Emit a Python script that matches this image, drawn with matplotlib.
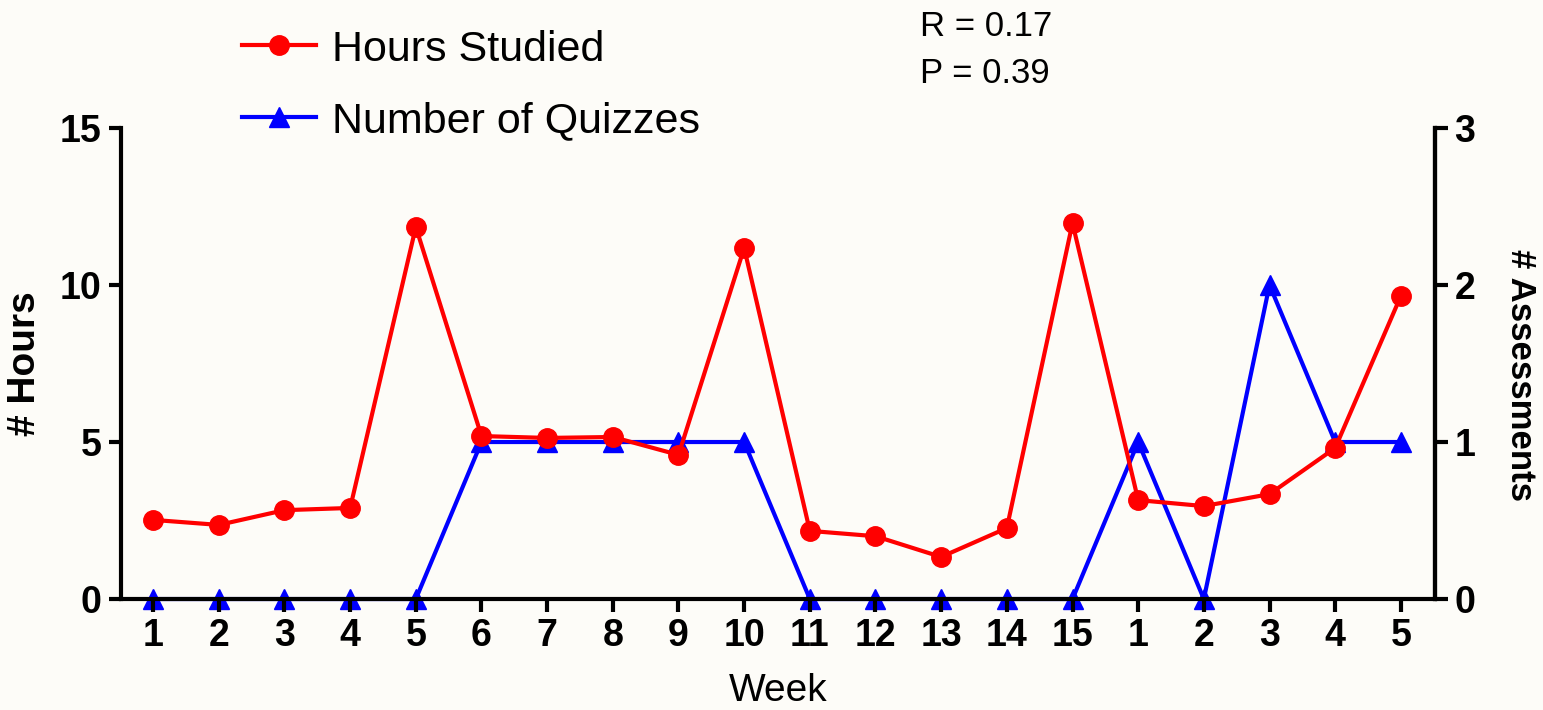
import matplotlib.pyplot as plt

weeks = ['1', '2', '3', '4', '5', '6', '7', '8', '9', '10',
         '11', '12', '13', '14', '15', '1', '2', '3', '4', '5']
hours = [2.52, 2.36, 2.83, 2.9, 11.85, 5.19, 5.13, 5.16, 4.59, 11.18,
         2.17, 2.0, 1.34, 2.26, 11.97, 3.15, 2.96, 3.34, 4.81, 9.65]
quizzes = [0, 0, 0, 0, 0, 1, 1, 1, 1, 1, 0, 0, 0, 0, 0, 1, 0, 2, 1, 1]

bg = '#fdfcf8'
plt.rcParams['font.family'] = ['Liberation Sans', 'DejaVu Sans']

fig = plt.figure(figsize=(15.43, 7.10), dpi=100, facecolor=bg)
ax1 = fig.add_axes([0.0784, 0.1563, 0.8516, 0.6634])
ax2 = ax1.twinx()
ax1.set_zorder(ax2.get_zorder() + 1)
ax1.patch.set_visible(False)
ax2.set_facecolor(bg)

x = list(range(len(weeks)))
l1, = ax1.plot(x, hours, color='#ff0000', lw=3, marker='o', ms=14,
               clip_on=False, zorder=5, label='Hours Studied')
l2, = ax2.plot(x, quizzes, color='#0000ff', lw=3, marker='^', ms=14,
               clip_on=False, zorder=5, label='Number of Quizzes')

ax1.set_xlim(-0.49, 19.52)
ax1.set_ylim(0, 15)
ax2.set_ylim(0, 3)
ax1.set_xticks(x)
ax1.set_xticklabels(weeks)
ax1.set_yticks([0, 5, 10, 15])
ax2.set_yticks([0, 1, 2, 3])

for ax in (ax1, ax2):
    ax.spines['top'].set_visible(False)
    for s in ax.spines.values():
        s.set_linewidth(3)
    ax.tick_params(width=3, length=9, labelsize=27, pad=5)
    for lab in ax.get_xticklabels() + ax.get_yticklabels():
        lab.set_fontweight('bold')
ax2.spines['left'].set_visible(False)
ax2.spines['bottom'].set_visible(False)

ax1.set_ylabel('# Hours', fontsize=28, fontweight='bold', labelpad=12)
ax2.set_ylabel('# Assessments', fontsize=25, fontweight='bold',
               rotation=270, va='center', ha='center')
ax2.yaxis.set_label_coords(1.0647, 0.475)
ax1.set_xlabel('Week', fontsize=28, labelpad=13)

fig.legend(handles=[l1, l2], loc='upper left', bbox_to_anchor=(0.132, 1.013),
           frameon=False, fontsize=31, handlelength=1.7, handletextpad=0.37,
           labelspacing=0.74)

fig.text(0.596, 0.962, 'R = 0.17', fontsize=25, va='center')
fig.text(0.596, 0.897, 'P = 0.39', fontsize=25, va='center')

fig.savefig('out.png', dpi=100, facecolor=bg)
